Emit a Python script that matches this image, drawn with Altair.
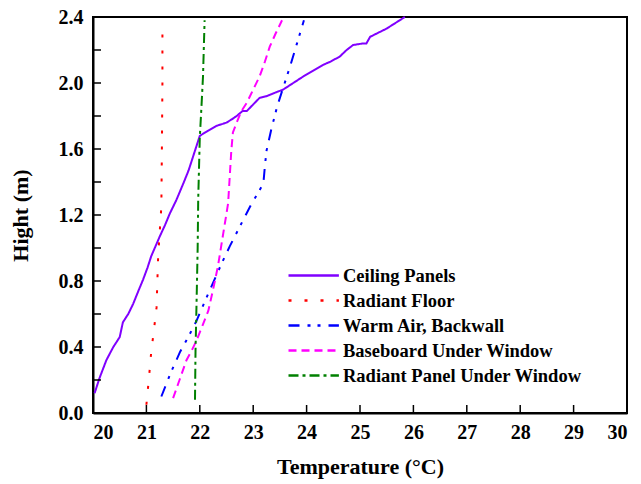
import altair as alt
import pandas as pd

series = ["Ceiling Panels", "Radiant Floor", "Warm Air, Backwall",
          "Baseboard Under Window", "Radiant Panel Under Window"]
colors = ["#8000FF", "#FF0000", "#0000FF", "#FF00FF", "#008000"]
dashes = [[1, 0], [3, 13], [11, 8, 3, 7, 3, 8], [8, 5], [10, 4, 3, 4]]

ceiling_T = [20.03, 20.12, 20.25, 20.38, 20.50, 20.56, 20.66, 20.75, 20.85, 20.94, 21.02, 21.09,
             21.17, 21.25, 21.35, 21.44, 21.56, 21.69, 21.79, 21.87, 21.94, 22.00, 22.15, 22.31,
             22.50, 22.60, 22.69, 22.80, 22.88, 23.00, 23.12, 23.25, 23.40, 23.56, 23.75, 23.94,
             24.10, 24.31, 24.45, 24.62, 24.75, 24.87, 25.06, 25.12, 25.19, 25.50, 25.84]
ceiling_H = [0.12, 0.21, 0.32, 0.40, 0.46, 0.55, 0.60, 0.66, 0.74, 0.81, 0.88, 0.95,
             1.01, 1.07, 1.14, 1.21, 1.29, 1.39, 1.47, 1.55, 1.62, 1.68, 1.71, 1.74,
             1.76, 1.78, 1.80, 1.83, 1.83, 1.87, 1.91, 1.92, 1.94, 1.96, 2.00, 2.04,
             2.07, 2.11, 2.13, 2.16, 2.20, 2.23, 2.24, 2.24, 2.28, 2.33, 2.40]

floor_T = [21.00, 21.05, 21.09, 21.14, 21.19, 21.22, 21.25, 21.28, 21.29, 21.30, 21.30]
floor_H = [0.05, 0.22, 0.37, 0.50, 0.64, 0.95, 1.10, 1.25, 1.60, 2.00, 2.35]

warm_T = [21.28, 21.45, 21.63, 21.80, 21.94, 22.10, 22.25, 22.40, 22.56, 22.75, 22.94,
          23.10, 23.19, 23.22, 23.25, 23.34, 23.45, 23.53, 23.69, 23.82, 23.95]
warm_H = [0.10, 0.24, 0.37, 0.47, 0.56, 0.68, 0.79, 0.90, 1.01, 1.13, 1.25,
          1.34, 1.39, 1.50, 1.59, 1.72, 1.86, 1.94, 2.10, 2.24, 2.38]

base_T = [21.50, 21.62, 21.75, 21.85, 21.94, 22.05, 22.16, 22.25, 22.34, 22.44, 22.53, 22.56,
          22.59, 22.62, 22.69, 22.78, 22.88, 23.00, 23.12, 23.22, 23.31, 23.42, 23.54]
base_H = [0.09, 0.20, 0.32, 0.38, 0.44, 0.53, 0.62, 0.75, 0.89, 1.09, 1.27, 1.43,
          1.59, 1.70, 1.76, 1.83, 1.88, 1.96, 2.04, 2.13, 2.22, 2.30, 2.38]

panel_T = [21.91, 21.92, 21.94, 21.96, 21.97, 22.00, 22.03, 22.06, 22.09]
panel_H = [0.08, 0.38, 0.68, 1.00, 1.29, 1.67, 1.85, 2.04, 2.38]

x_ticks = [20, 21, 22, 23, 24, 25, 26, 27, 28, 29, 30]
y_ticks = [0.0, 0.2, 0.4, 0.6, 0.8, 1.0, 1.2, 1.4, 1.6, 1.8, 2.0, 2.2, 2.4]
y_labels = [0.0, 0.4, 0.8, 1.2, 1.6, 2.0, 2.4]

# frame corners (axis box): left-bottom -> left-top -> right-top -> right-bottom -> left-bottom
frame_T = [20, 20, 30, 30, 20]
frame_H = [0.0, 2.4, 2.4, 0.0, 0.0]

rows = []
for name, T, Hs in [(series[0], ceiling_T, ceiling_H), (series[1], floor_T, floor_H),
                    (series[2], warm_T, warm_H), (series[3], base_T, base_H),
                    (series[4], panel_T, panel_H)]:
    for i, (t, h) in enumerate(zip(T, Hs)):
        rows.append({"series": name, "T": t, "H": h, "i": i})
df = pd.DataFrame(rows)
frame_df = pd.DataFrame({"T": frame_T, "H": frame_H, "i": list(range(len(frame_T)))})

FONT = "Liberation Serif"
W, H = 534, 396
xscale = alt.Scale(domain=[20, 30], nice=False, zero=False)
yscale = alt.Scale(domain=[0, 2.4], nice=False, zero=False)
xaxis = alt.Axis(title="Temperature (°C)", values=x_ticks, format="d",
                 ticks=False, labelPadding=9, titlePadding=14)
yaxis = alt.Axis(title="Hight (m)", values=y_labels, format=".1f",
                 ticks=False, labelPadding=10, titlePadding=26)


def leg():
    return alt.Legend(title=None, orient="none", legendX=194, legendY=245,
                      symbolType="M-1,0H3.2", symbolSize=576,
                      symbolStrokeWidth=2.5, labelOffset=29, labelLimit=500,
                      labelFont=FONT, labelFontSize=18.5,
                      labelFontWeight="bold", labelColor="black",
                      rowPadding=2, padding=0)


frame = alt.Chart(frame_df).mark_line(color="#000000", strokeWidth=2).encode(
    x=alt.X("T:Q", scale=xscale, axis=xaxis),
    y=alt.Y("H:Q", scale=yscale, axis=yaxis),
    order=alt.Order("i:Q"),
)

lines = alt.Chart(df).mark_line(strokeWidth=2).encode(
    x=alt.X("T:Q", scale=xscale, axis=xaxis),
    y=alt.Y("H:Q", scale=yscale, axis=yaxis),
    color=alt.Color("series:N", scale=alt.Scale(domain=series, range=colors), legend=leg()),
    strokeDash=alt.StrokeDash("series:N", scale=alt.Scale(domain=series, range=dashes),
                              legend=leg()),
    order=alt.Order("i:Q"),
    detail="series:N",
)

ytick_df = pd.DataFrame({"H": y_ticks})
xtick_df = pd.DataFrame({"T": x_ticks})

yt = alt.Chart(ytick_df).mark_rule(color="black", strokeWidth=1.5).encode(
    y=alt.Y("H:Q", scale=yscale, axis=yaxis),
    x=alt.value(0), x2=alt.value(8),
)
xt = alt.Chart(xtick_df).mark_rule(color="black", strokeWidth=1.5).encode(
    x=alt.X("T:Q", scale=xscale, axis=xaxis),
    y=alt.value(H), y2=alt.value(H - 8),
)

chart = alt.layer(frame, lines, yt, xt).properties(
    width=W, height=H,
    background="white",
    autosize=alt.AutoSizeParams(type="none"),
    padding={"left": 93, "top": 17, "right": 14, "bottom": 71},
).configure_view(
    stroke="black", strokeWidth=2
).configure_axis(
    grid=False, domainColor="black", domainWidth=2,
    labelFont=FONT, labelFontSize=20, labelFontWeight="bold", labelColor="black",
    titleFont=FONT, titleFontSize=22, titleFontWeight="bold", titleColor="black",
)

chart.save("out.html", embed_options={"renderer": "svg", "actions": False})
